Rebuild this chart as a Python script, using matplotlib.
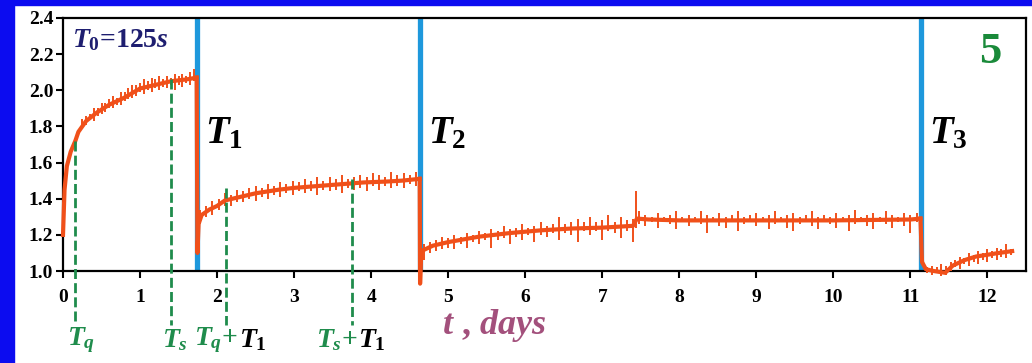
import numpy as np
import matplotlib
matplotlib.use('Agg')
import matplotlib.pyplot as plt
from matplotlib.patches import Rectangle

plt.rcParams['font.family'] = ['Liberation Serif', 'DejaVu Serif']
plt.rcParams['mathtext.fontset'] = 'custom'
plt.rcParams['mathtext.rm'] = 'Liberation Serif:bold'
plt.rcParams['mathtext.it'] = 'Liberation Serif:italic:bold'
plt.rcParams['mathtext.bf'] = 'Liberation Serif:bold'

# switching moments (days)
T1 = 1.74
T2 = 4.635
T3 = 11.14

# green marker lines: position and the value where they start
mark_t = [0.16, 1.40, 2.12, 3.75]
mark_top = [1.72, 2.06, 1.46, 1.51]

# base curve, one list per segment
seg1_t = [0.0, 0.02, 0.05, 0.1, 0.16, 0.2, 0.3, 0.45, 0.6, 0.8, 1.0, 1.2, 1.4, 1.6, 1.735]
seg1_v = [1.20, 1.45, 1.58, 1.66, 1.72, 1.77, 1.83, 1.88, 1.92, 1.96, 2.01, 2.03, 2.05, 2.06, 2.07]
seg2_t = [1.735, 1.745, 1.76, 1.8, 1.9, 2.0, 2.1, 2.3, 2.5, 2.8, 3.0, 3.3, 3.6, 3.9, 4.2, 4.4, 4.63]
seg2_v = [2.07, 1.10, 1.26, 1.31, 1.34, 1.36, 1.39, 1.41, 1.43, 1.45, 1.46, 1.47, 1.48, 1.49, 1.495, 1.50, 1.51]
seg3_t = [4.63, 4.635, 4.65, 4.8, 5.0, 5.4, 5.8, 6.2, 6.6, 7.0, 7.4, 7.45, 7.6, 8.0, 9.0, 10.0, 11.0, 11.13]
seg3_v = [1.51, 0.93, 1.11, 1.14, 1.16, 1.19, 1.21, 1.225, 1.235, 1.24, 1.25, 1.29, 1.285, 1.28, 1.28, 1.28, 1.285, 1.29]
seg4_t = [11.13, 11.15, 11.2, 11.3, 11.45, 11.55, 11.7, 11.85, 12.0, 12.15, 12.32]
seg4_v = [1.29, 1.05, 1.01, 1.00, 0.99, 1.03, 1.06, 1.08, 1.09, 1.10, 1.11]

# noise: time, low and high excursion of the trace
noise1_t = [0.25, 0.3, 0.35, 0.4, 0.45, 0.5, 0.55, 0.6, 0.65, 0.7, 0.75, 0.8, 0.85, 0.9, 0.95,
            1.0, 1.05, 1.1, 1.15, 1.2, 1.25, 1.3, 1.35, 1.4, 1.45, 1.5, 1.55, 1.6, 1.65, 1.7]
noise1_lo = [1.79, 1.81, 1.84, 1.83, 1.86, 1.87, 1.88, 1.90, 1.90, 1.92, 1.92, 1.94, 1.95, 1.96, 1.97,
             1.99, 1.98, 2.00, 1.99, 2.01, 2.00, 2.02, 2.01, 2.03, 2.00, 2.03, 2.02, 2.04, 2.03, 2.05]
noise1_hi = [1.84, 1.86, 1.87, 1.90, 1.90, 1.93, 1.93, 1.95, 1.97, 1.96, 1.99, 1.99, 2.01, 2.03, 2.03,
             2.04, 2.06, 2.05, 2.07, 2.06, 2.08, 2.06, 2.08, 2.07, 2.09, 2.08, 2.09, 2.08, 2.10, 2.12]

noise2_t = [1.78, 1.86, 1.94, 2.02, 2.10, 2.18, 2.26, 2.34, 2.42, 2.50, 2.58, 2.66, 2.74, 2.82, 2.90, 2.98, 3.06, 3.14,
            3.22, 3.30, 3.38, 3.46, 3.54, 3.62, 3.70, 3.78, 3.86, 3.94, 4.02, 4.10, 4.18, 4.26, 4.34, 4.42, 4.50, 4.58]
noise2_lo = [1.26, 1.30, 1.31, 1.34, 1.36, 1.36, 1.38, 1.38, 1.40, 1.39, 1.41, 1.40, 1.42, 1.41, 1.43, 1.42, 1.44, 1.43,
             1.44, 1.42, 1.45, 1.44, 1.45, 1.43, 1.46, 1.45, 1.46, 1.44, 1.47, 1.45, 1.47, 1.46, 1.47, 1.46, 1.48, 1.47]
noise2_hi = [1.34, 1.36, 1.39, 1.40, 1.43, 1.42, 1.45, 1.44, 1.46, 1.47, 1.46, 1.48, 1.47, 1.49, 1.48, 1.50, 1.49, 1.51,
             1.50, 1.52, 1.50, 1.52, 1.51, 1.53, 1.51, 1.52, 1.53, 1.52, 1.54, 1.53, 1.52, 1.55, 1.53, 1.54, 1.53, 1.55]

noise3_t = [4.68, 4.76, 4.84, 4.92, 5.00, 5.08, 5.16, 5.24, 5.32, 5.40, 5.48, 5.56, 5.64, 5.72, 5.80, 5.88, 5.96,
            6.04, 6.12, 6.20, 6.28, 6.36, 6.44, 6.52, 6.60, 6.68, 6.76, 6.84, 6.92, 7.00, 7.08, 7.16, 7.24, 7.32,
            7.40, 7.44, 7.48, 7.56, 7.64, 7.72, 7.80, 7.88, 7.96, 8.04, 8.12, 8.20, 8.28, 8.36, 8.44, 8.52, 8.60,
            8.68, 8.76, 8.84, 8.92, 9.00, 9.08, 9.16, 9.24, 9.32, 9.40, 9.48, 9.56, 9.64, 9.72, 9.80, 9.88, 9.96,
            10.04, 10.12, 10.20, 10.28, 10.36, 10.44, 10.52, 10.60, 10.68, 10.76, 10.84, 10.92, 11.00, 11.08]
noise3_lo = [1.06, 1.10, 1.11, 1.12, 1.13, 1.12, 1.15, 1.13, 1.16, 1.15, 1.17, 1.13, 1.17, 1.18, 1.15, 1.19, 1.17,
             1.20, 1.16, 1.20, 1.19, 1.21, 1.17, 1.21, 1.20, 1.16, 1.22, 1.20, 1.22, 1.17, 1.22, 1.21, 1.18, 1.22,
             1.16, 1.24, 1.26, 1.25, 1.27, 1.24, 1.27, 1.26, 1.23, 1.27, 1.25, 1.27, 1.26, 1.21, 1.27, 1.25, 1.24,
             1.27, 1.22, 1.26, 1.27, 1.25, 1.27, 1.23, 1.26, 1.27, 1.24, 1.22, 1.26, 1.27, 1.25, 1.23, 1.27, 1.26,
             1.24, 1.27, 1.22, 1.26, 1.27, 1.25, 1.23, 1.27, 1.26, 1.24, 1.27, 1.25, 1.21, 1.27]
noise3_hi = [1.15, 1.16, 1.17, 1.19, 1.18, 1.20, 1.19, 1.21, 1.20, 1.22, 1.21, 1.23, 1.22, 1.25, 1.23, 1.24, 1.26,
             1.24, 1.25, 1.27, 1.25, 1.26, 1.30, 1.26, 1.27, 1.29, 1.27, 1.30, 1.27, 1.28, 1.31, 1.27, 1.30, 1.28,
             1.29, 1.44, 1.33, 1.31, 1.30, 1.32, 1.30, 1.31, 1.33, 1.30, 1.31, 1.30, 1.33, 1.31, 1.30, 1.32, 1.30,
             1.31, 1.33, 1.30, 1.31, 1.32, 1.30, 1.31, 1.33, 1.30, 1.31, 1.32, 1.30, 1.31, 1.33, 1.30, 1.31, 1.30,
             1.32, 1.30, 1.31, 1.34, 1.30, 1.31, 1.32, 1.30, 1.33, 1.31, 1.30, 1.32, 1.31, 1.32]

noise4_t = [11.22, 11.28, 11.34, 11.40, 11.46, 11.52, 11.58, 11.64, 11.70, 11.76, 11.82, 11.88, 11.94,
            12.00, 12.06, 12.12, 12.18, 12.24, 12.30]
noise4_lo = [0.99, 0.98, 0.99, 0.97, 0.98, 1.00, 1.02, 1.01, 1.04, 1.03, 1.05, 1.04, 1.06,
             1.05, 1.07, 1.06, 1.08, 1.07, 1.09]
noise4_hi = [1.02, 1.03, 1.02, 1.04, 1.03, 1.05, 1.06, 1.08, 1.07, 1.10, 1.09, 1.11, 1.10,
             1.12, 1.11, 1.13, 1.12, 1.15, 1.12]

curve_color = '#f0501a'
blue_color = '#1e98dc'
green_color = '#1f8c4c'

fig = plt.figure(figsize=(10.32, 3.63), dpi=100)
fig.patches.append(Rectangle((0, 0), 14 / 1032, 1, transform=fig.transFigure, color='#0c0cf0', zorder=0))
fig.patches.append(Rectangle((0, 1 - 5 / 363), 1, 5 / 363, transform=fig.transFigure, color='#0c0cf0', zorder=0))
ax = fig.add_axes([63 / 1032, 1 - 271 / 363, 963 / 1032, 253 / 363])

# blue switching lines
for t in [T1, T2, T3]:
    ax.axvline(t, color=blue_color, lw=3.8, zorder=2)

# green dashed markers, running below the axis
for t, top in zip(mark_t, mark_top):
    ax.plot([t, t], [top, 0.70], color=green_color, lw=2.0, dashes=(3.6, 1.5),
            clip_on=False, zorder=4)

# the measured curve
for tt, vv in [(seg1_t, seg1_v), (seg2_t, seg2_v), (seg3_t, seg3_v), (seg4_t, seg4_v)]:
    ax.plot(tt, vv, color=curve_color, lw=3.0, clip_on=False, zorder=3)
for nt, lo, hi in [(noise1_t, noise1_lo, noise1_hi), (noise2_t, noise2_lo, noise2_hi),
                   (noise3_t, noise3_lo, noise3_hi), (noise4_t, noise4_lo, noise4_hi)]:
    ax.vlines(nt, lo, hi, color=curve_color, lw=1.4, zorder=3, clip_on=False)

ax.set_xlim(0, 12.5)
ax.set_ylim(1.0, 2.4)
ax.set_xticks(range(0, 13))
ax.set_yticks([1.0, 1.2, 1.4, 1.6, 1.8, 2.0, 2.2, 2.4])
ax.set_yticklabels(['1.0', '1.2', '1.4', '1.6', '1.8', '2.0', '2.2', '2.4'])
ax.tick_params(direction='out', length=5, width=1.5, labelsize=14)
ax.tick_params(axis='x', pad=8)
ax.tick_params(axis='y', pad=2)
for lab in ax.get_xticklabels() + ax.get_yticklabels():
    lab.set_fontweight('bold')
for sp in ax.spines.values():
    sp.set_linewidth(1.6)

# text annotations
ax.text(0.12, 2.28, r'$T_0$=125$s$', color='#1e1e70', fontsize=20, fontweight='bold',
        va='center', ha='left')
ax.text(12.04, 2.21, '5', color='#1a8a3a', fontsize=32, fontweight='bold', va='center', ha='center')
for t, lab in zip([T1, T2, T3], [r'$T_1$', r'$T_2$', r'$T_3$']):
    ax.text(t + 0.1, 1.76, lab, fontsize=28, color='black', va='center', ha='left')

ax.text(5.6, 0.70, r'$t$ , $days$', color='#a3507c', fontsize=26, fontweight='bold',
        ha='center', va='center', clip_on=False)

lab_y = 0.615
ax.text(mark_t[0] + 0.08, lab_y, r'$T_q$', color=green_color, fontsize=20, ha='center', va='center')
ax.text(mark_t[1] + 0.05, lab_y, r'$T_s$', color=green_color, fontsize=20, ha='center', va='center')
for t, off, lab in [(mark_t[2], 0.15, r'$T_q$+'), (mark_t[3], 0.07, r'$T_s$+')]:
    ax.text(t + off, lab_y, lab, color=green_color, fontsize=20, fontweight='bold', ha='right', va='center')
    ax.text(t + off + 0.01, lab_y, r'$T_1$', color='black', fontsize=20, ha='left', va='center')

fig.savefig('out.png', dpi=100, facecolor='white')
